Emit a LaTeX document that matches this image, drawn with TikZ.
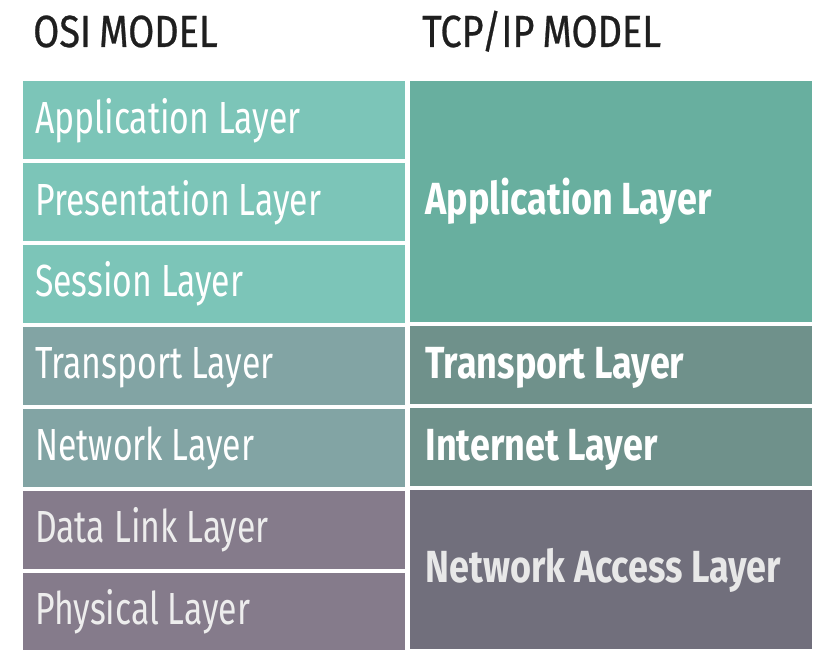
\documentclass[tikz,border=0pt]{standalone}
\usepackage{fontspec}
\setmainfont[FakeStretch=0.75, WordSpace=1.0,
  BoldFeatures={FakeStretch=0.8}]{Fira Sans}
\newfontfamily\headfont[FakeStretch=0.84, FakeBold=0.6, WordSpace=0.8]{Fira Sans}
\usepackage{tikz}
\usetikzlibrary{
  positioning,
  backgrounds
}
\definecolor{ositop}{HTML}{7CC5B8}
\definecolor{tcptop}{HTML}{68AF9F}
\definecolor{osimid}{HTML}{82A4A4}
\definecolor{tcpmid}{HTML}{6F918B}
\definecolor{osilow}{HTML}{857B8B}
\definecolor{tcplow}{HTML}{716F7C}
\definecolor{headtext}{HTML}{1F1F1F}

\begin{document}
\begin{tikzpicture}[
      x=1pt,y=1pt,
      cell/.style={
         rectangle,
         inner ysep=0pt,
         minimum height=77.8pt,
         text height=26pt,
         text depth=0pt,
         align=left,
         execute at begin node={\spaceskip=0pt\xspaceskip=0pt}
      },
      osi/.style={
         cell,
         text width=358pt,
         inner xsep=12pt,
         text=white,
         font=\fontsize{45}{50}\selectfont
      },
      tcp/.style={
         cell,
         text width=370pt,
         inner xsep=16pt,
         text=white,
         font=\fontsize{45}{50}\selectfont\bfseries
      },
      heading/.style={
         anchor=base west,
         inner sep=0pt,
         text=headtext,
         font=\fontsize{45}{50}\headfont
      }
    ]
    \useasboundingbox[fill=white] (0,0) rectangle (826,-660);
    % headings
    \node (osihead) [heading] at (33,-47) {OSI MODEL};
    \node (tcphead) [heading] at (422,-47) {TCP/IP MODEL};
    % osi column
    \node (osi1) [osi, fill=ositop, anchor=north west] at (23,-81) {Application Layer};
    \node (osi2) [osi, fill=ositop, below=3.7pt of osi1] {Presentation Layer};
    \node (osi3) [osi, fill=ositop, below=3.7pt of osi2] {Session Layer};
    \node (osi4) [osi, fill=osimid, below=3.7pt of osi3] {Transport Layer};
    \node (osi5) [osi, fill=osimid, below=3.7pt of osi4] {Network Layer};
    \node (osi6) [osi, fill=osilow, text=white!93!black, below=3.7pt of osi5] {Data Link Layer};
    \node (osi7) [osi, fill=osilow, text=white!93!black, below=3.7pt of osi6] {Physical Layer};
    % tcp/ip column
    \node (tcp1) [tcp, fill=tcptop, minimum height=241pt,
       right=4pt of osi1.north east, anchor=north west] {Application Layer};
    \node (tcp2) [tcp, fill=tcpmid, below=3.7pt of tcp1] {Transport Layer};
    \node (tcp3) [tcp, fill=tcpmid, below=3.7pt of tcp2] {Internet Layer};
    \node (tcp4) [tcp, fill=tcplow, text=white!91!black, minimum height=159.3pt,
       below=3.7pt of tcp3] {Network Access Layer};
\end{tikzpicture}
\end{document}
